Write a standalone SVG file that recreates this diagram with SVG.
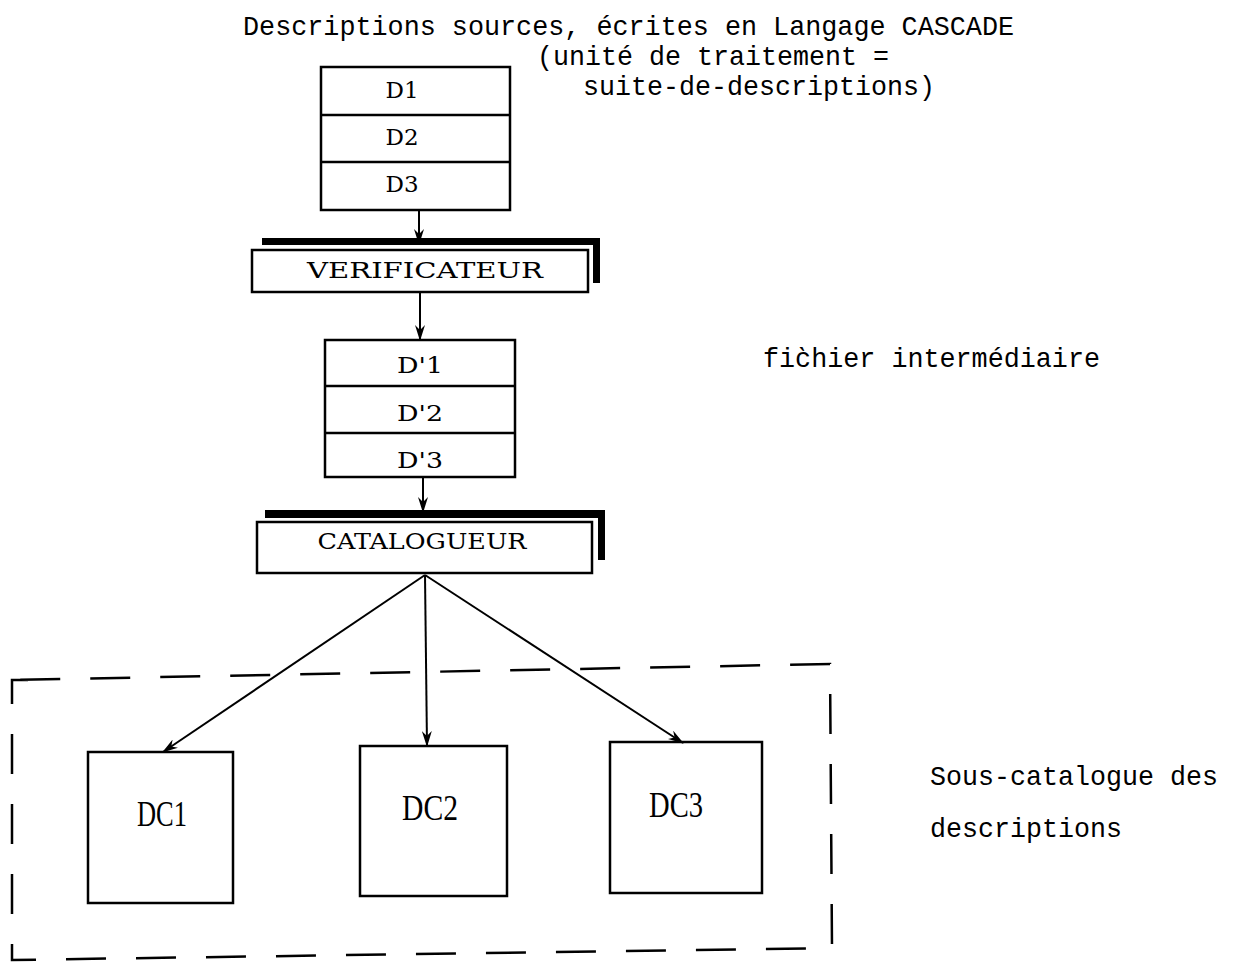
<svg xmlns="http://www.w3.org/2000/svg" width="1236" height="965" viewBox="0 0 1236 965">
<style>
.box{fill:#fff;stroke:#000;stroke-width:2.5}
.div{stroke:#000;stroke-width:2.5}
.sh{fill:#000}
.t{font-family:"Liberation Mono","DejaVu Sans Mono",monospace;font-size:28px;fill:#000}
.lbl{font-family:"DejaVu Serif","Liberation Serif",serif;font-size:23px;fill:#000;text-anchor:middle}
.dc{font-family:"Liberation Serif","DejaVu Serif",serif;font-size:35px;fill:#000;text-anchor:middle}
.con{stroke:#000;stroke-width:2;fill:none}
.dash{stroke:#000;stroke-width:2.5;fill:none;stroke-dasharray:40 30}
</style>
<defs>
<marker id="ah" viewBox="0 0 16 10" refX="15" refY="5" markerWidth="16" markerHeight="10" markerUnits="userSpaceOnUse" orient="auto">
<path d="M0,0 L16,5 L0,10 L5,5 Z" fill="#000"/>
</marker>
</defs>

<g id="titles">
<text class="t" x="243" y="35" textLength="771" lengthAdjust="spacingAndGlyphs">Descriptions sources, écrites en Langage CASCADE</text>
<text class="t" x="537" y="65" textLength="352" lengthAdjust="spacingAndGlyphs">(unité de traitement =</text>
<text class="t" x="583" y="95" textLength="352" lengthAdjust="spacingAndGlyphs">suite-de-descriptions)</text>
</g>

<g id="node-D">
<rect class="box" x="321" y="67" width="189" height="143"/>
<line class="div" x1="321" y1="115" x2="510" y2="115"/>
<line class="div" x1="321" y1="162" x2="510" y2="162"/>
<text class="lbl" x="402" y="98">D1</text>
<text class="lbl" x="402" y="145">D2</text>
<text class="lbl" x="402" y="192">D3</text>
</g>

<g id="node-verificateur">
<rect class="sh" x="262" y="238" width="338" height="7"/>
<rect class="sh" x="593" y="238" width="7" height="45"/>
<rect class="box" x="252" y="250" width="336" height="42"/>
<text class="lbl" x="425" y="278" textLength="236" lengthAdjust="spacingAndGlyphs">VERIFICATEUR</text>
</g>

<g id="node-Dprime">
<rect class="box" x="325" y="340" width="190" height="137"/>
<line class="div" x1="325" y1="386" x2="515" y2="386"/>
<line class="div" x1="325" y1="433" x2="515" y2="433"/>
<text class="lbl" x="420" y="373" textLength="46" lengthAdjust="spacingAndGlyphs">D'1</text>
<text class="lbl" x="420" y="421" textLength="46" lengthAdjust="spacingAndGlyphs">D'2</text>
<text class="lbl" x="420" y="468" textLength="46" lengthAdjust="spacingAndGlyphs">D'3</text>
</g>

<g id="node-catalogueur">
<rect class="sh" x="265" y="510" width="340" height="8"/>
<rect class="sh" x="598" y="510" width="7" height="50"/>
<rect class="box" x="257" y="522" width="335" height="51"/>
<text class="lbl" x="422" y="549" textLength="209" lengthAdjust="spacingAndGlyphs">CATALOGUEUR</text>
</g>

<g id="subcatalogue">
<path class="dash" d="M28,680 L12,680 L12,960 L832,948 L830,664 L12,680"/>
</g>

<g id="node-DC1">
<rect class="box" x="88" y="752" width="145" height="151"/>
<text class="dc" x="162" y="826" textLength="50" lengthAdjust="spacingAndGlyphs">DC1</text>
</g>
<g id="node-DC2">
<rect class="box" x="360" y="746" width="147" height="150"/>
<text class="dc" x="430" y="820" textLength="56" lengthAdjust="spacingAndGlyphs">DC2</text>
</g>
<g id="node-DC3">
<rect class="box" x="610" y="742" width="152" height="151"/>
<text class="dc" x="676" y="817" textLength="54" lengthAdjust="spacingAndGlyphs">DC3</text>
</g>

<g id="notes">
<text class="t" x="763" y="367" textLength="337" lengthAdjust="spacingAndGlyphs">fic&#x300;hier intermédiaire</text>
<text class="t" x="930" y="785" textLength="288" lengthAdjust="spacingAndGlyphs">Sous-catalogue des</text>
<text class="t" x="930" y="837" textLength="192" lengthAdjust="spacingAndGlyphs">descriptions</text>
</g>

<g id="connectors">
<line class="con" x1="419" y1="210" x2="419" y2="244" marker-end="url(#ah)"/>
<line class="con" x1="420" y1="292" x2="420" y2="340" marker-end="url(#ah)"/>
<line class="con" x1="423" y1="477" x2="423" y2="512" marker-end="url(#ah)"/>
<line class="con" x1="425" y1="575" x2="163" y2="752" marker-end="url(#ah)"/>
<line class="con" x1="425" y1="575" x2="427" y2="746" marker-end="url(#ah)"/>
<line class="con" x1="425" y1="575" x2="683" y2="743" stroke-width="3.5" marker-end="url(#ah)"/>
</g>
</svg>
